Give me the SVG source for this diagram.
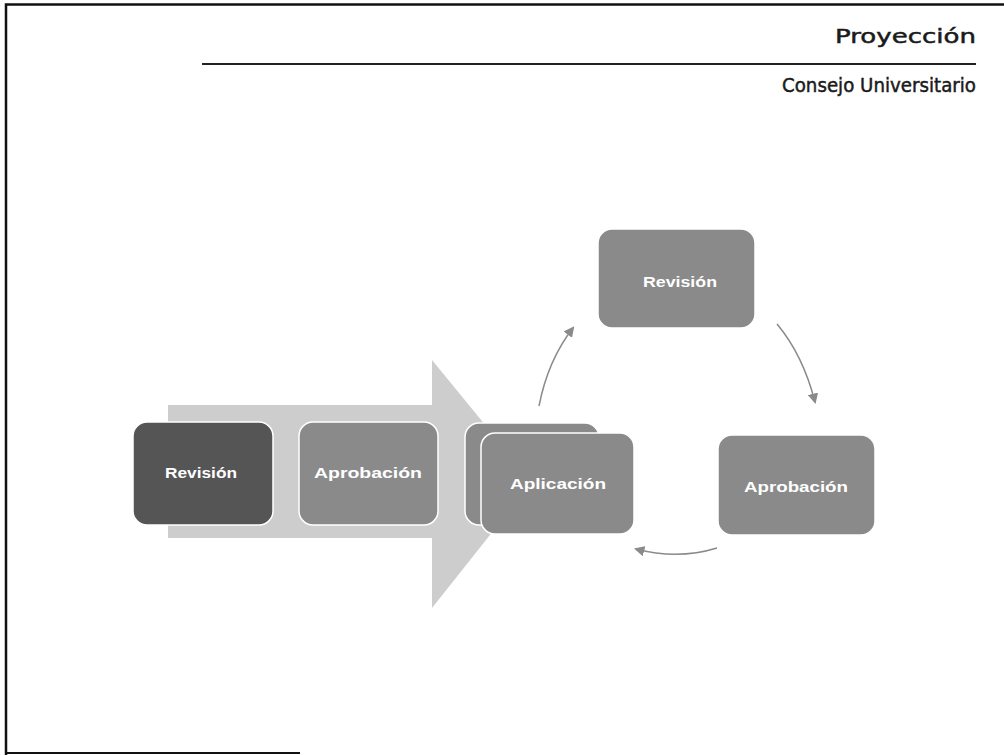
<svg xmlns="http://www.w3.org/2000/svg" width="1004" height="755" viewBox="0 0 1004 755">
<defs>
<style>
.box{stroke:#ffffff;stroke-width:1.5}
.lbl{font-family:"Liberation Sans",Arial,sans-serif;font-size:15px;font-weight:bold;fill:#ffffff;text-anchor:middle}
.hdr{font-family:"DejaVu Sans","Liberation Sans",Arial,sans-serif;font-size:20px;fill:#1a1a1a;stroke:#1a1a1a;stroke-width:0.5;text-anchor:end}
.con{fill:none;stroke:#8a8a8a;stroke-width:1.5}
</style>
<marker id="ah" viewBox="0 0 10 10" refX="8" refY="5" markerWidth="7" markerHeight="7" orient="auto-start-reverse">
<path d="M0,0 L10,5 L0,10 z" fill="#8a8a8a"/>
</marker>
</defs>
<rect width="1004" height="755" fill="#ffffff"/>
<path d="M6,755 L6,4.5 L1004,4.5" fill="none" stroke="#111" stroke-width="2.5"/>
<line x1="6" y1="753" x2="300" y2="753" stroke="#111" stroke-width="2"/>
<text class="hdr" x="976" y="43" textLength="141" lengthAdjust="spacingAndGlyphs">Proyección</text>
<line x1="202" y1="64" x2="976" y2="64" stroke="#222" stroke-width="2"/>
<text class="hdr" x="976" y="92" textLength="194" lengthAdjust="spacingAndGlyphs">Consejo Universitario</text>

<g id="big-arrow">
<path d="M168,405 L432,405 L432,360 L532,482 L432,608 L432,538 L168,538 Z" fill="#cdcdcd"/>
</g>

<g id="revision-1">
<rect class="box" x="133" y="422" width="140" height="103" rx="14" fill="#555555"/>
<text class="lbl" x="201" y="478" textLength="72" lengthAdjust="spacingAndGlyphs">Revisión</text>
</g>
<g id="aprobacion-1">
<rect class="box" x="299" y="422" width="139" height="103" rx="14" fill="#8a8a8a"/>
<text class="lbl" x="368" y="478" textLength="108" lengthAdjust="spacingAndGlyphs">Aprobación</text>
</g>
<g id="aplicacion">
<rect class="box" x="465" y="423" width="134" height="102" rx="14" fill="#8a8a8a"/>
<rect class="box" x="481" y="433" width="153" height="101" rx="14" fill="#8a8a8a"/>
<text class="lbl" x="558" y="489" textLength="96" lengthAdjust="spacingAndGlyphs">Aplicación</text>
</g>
<g id="revision-2">
<rect class="box" x="598" y="229" width="157" height="99" rx="14" fill="#8a8a8a"/>
<text class="lbl" x="680" y="287" textLength="74" lengthAdjust="spacingAndGlyphs">Revisión</text>
</g>
<g id="aprobacion-2">
<rect class="box" x="718" y="435" width="157" height="100" rx="14" fill="#8a8a8a"/>
<text class="lbl" x="796" y="492" textLength="104" lengthAdjust="spacingAndGlyphs">Aprobación</text>
</g>

<g id="connectors">
<path class="con" d="M539,406 Q548,360 573,328" marker-end="url(#ah)"/>
<path class="con" d="M777,324 Q803,355 815,402" marker-end="url(#ah)"/>
<path class="con" d="M717,548 Q678,560 636,549" marker-end="url(#ah)"/>
</g>
</svg>
